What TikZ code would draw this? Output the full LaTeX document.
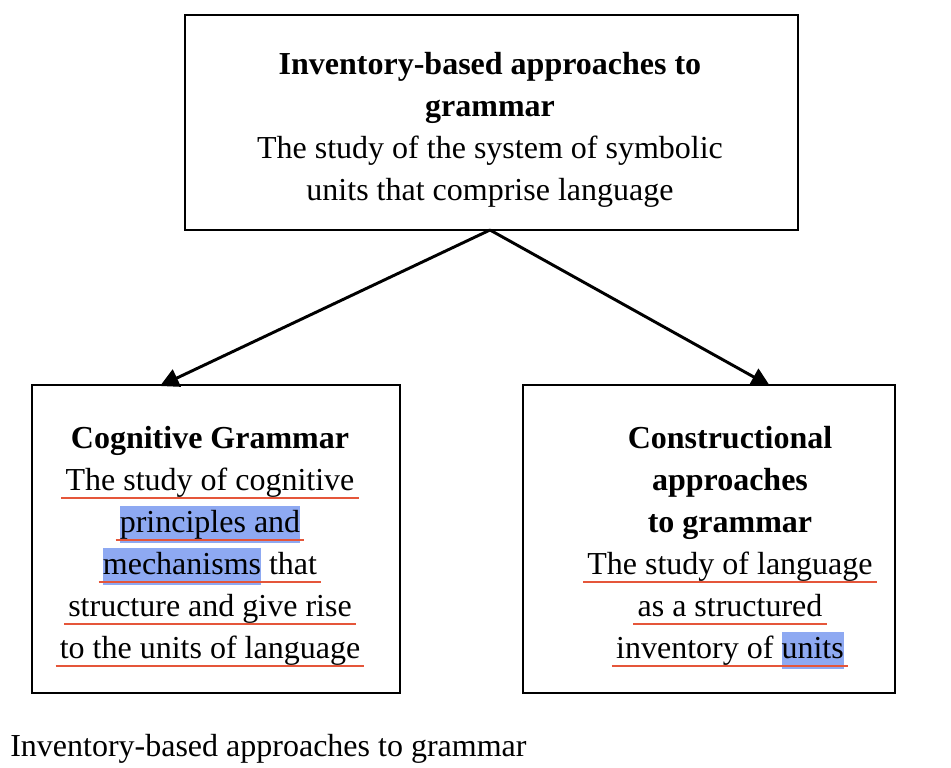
\documentclass[tikz,border=0pt]{standalone}
\usepackage{fontspec}
\setmainfont{Liberation Serif}
\usetikzlibrary{arrows.meta}
\definecolor{ulred}{HTML}{E5563A}
\definecolor{hlblue}{HTML}{8EA9F2}
\newcommand{\myhl}[1]{{\setlength{\fboxsep}{0pt}\colorbox{hlblue}{\strut #1}}}
\begin{document}
\begin{tikzpicture}[x=0.75pt,y=-0.75pt,
  box/.style={draw,line width=1.6pt},
  txt/.style={font=\fontsize{24}{28}\selectfont,inner sep=0pt,anchor=base},
  bt/.style={txt,font=\fontsize{24}{28}\selectfont\bfseries},
  ul/.style={txt,text depth=6pt},
  arr/.style={line width=2.2pt,-{Triangle[length=14pt,width=14pt]}}]
\useasboundingbox (0,0) rectangle (951,768);
\draw[box] (185,15) rectangle (798,230);
\draw[box] (32,385) rectangle (400,693);
\draw[box] (523,385) rectangle (895,693);
\coordinate (top) at (490,230);
\coordinate (lt) at (160,386);
\coordinate (rt) at (770,386);
\draw[arr] (top) -- (lt);
\draw[arr] (top) -- (rt);
% top
\node[bt] (t1) at (490,74) {Inventory-based approaches to};
\node[bt] (t2) at (490,116) {grammar};
\node[txt] (t3) at (490,158) {The study of the system of symbolic};
\node[txt] (t4) at (490,200) {units that comprise language};
% left
\node[bt] (l0) at (210,448) {Cognitive Grammar};
\node[ul] (l1) at (210,490) {The study of cognitive};
\node[ul] (l2) at (210,532) {\myhl{principles and}};
\node[ul] (l3) at (210,574) {\myhl{mechanisms} that};
\node[ul] (l4) at (210,616) {structure and give rise};
\node[ul] (l5) at (210,658) {to the units of language};
% right
\node[bt] (r0) at (730,448) {Constructional};
\node[bt] (r1) at (730,490) {approaches};
\node[bt] (r2) at (730,532) {to grammar};
\node[ul] (r3) at (730,574) {The study of language};
\node[ul] (r4) at (730,616) {as a structured};
\node[ul] (r5) at (730,658) {inventory of \myhl{units}};
\foreach \n in {l1,l2,l3,l4,l5,r3,r4,r5}
  \draw[ulred,line width=1.8pt] ([xshift=-3pt]\n.south west) -- ([xshift=3pt]\n.south east);
\node[txt,anchor=base west] (cap) at (10,756) {Inventory-based approaches to grammar};
\end{tikzpicture}
\end{document}
